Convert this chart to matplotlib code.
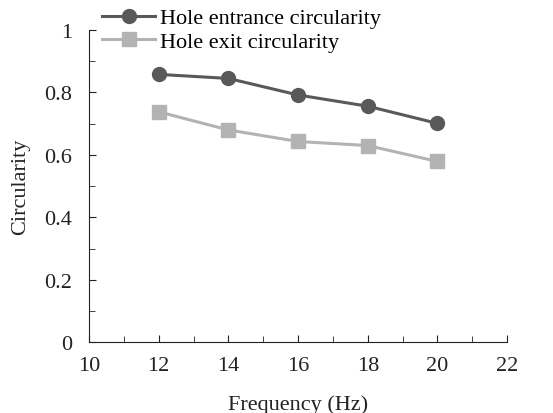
import matplotlib.pyplot as plt
from matplotlib.ticker import MultipleLocator

freq = [12, 14, 16, 18, 20]
entrance = [0.858, 0.845, 0.792, 0.756, 0.701]
exit_ = [0.738, 0.680, 0.643, 0.630, 0.579]

plt.rcParams['font.family'] = 'Liberation Serif'
plt.rcParams['font.size'] = 16

fig = plt.figure(figsize=(5.53, 4.14), dpi=100)
ax = fig.add_axes([0.161, 0.171, 0.756, 0.754])

ax.plot(freq, entrance, color='#595959', lw=2.2, marker='o', ms=10,
        label='Hole entrance circularity')
ax.plot(freq, exit_, color='#b3b3b3', lw=2.2, marker='s', ms=10,
        label='Hole exit circularity')

ax.set_xlim(10, 22)
ax.set_ylim(0, 1)
ax.xaxis.set_major_locator(MultipleLocator(2))
ax.xaxis.set_minor_locator(MultipleLocator(1))
ax.yaxis.set_minor_locator(MultipleLocator(0.1))
ax.set_yticks([0, 0.2, 0.4, 0.6, 0.8, 1.0])
ax.set_yticklabels(['0', '0.2', '0.4', '0.6', '0.8', '1'])
ax.tick_params(which='both', direction='in', color='#222222', labelcolor='#222222')
ax.tick_params(which='major', length=5, labelsize=16)
ax.tick_params(which='minor', length=4)
ax.tick_params(axis='x', pad=10)
ax.tick_params(axis='y', pad=12)
for s in ['top', 'right']:
    ax.spines[s].set_visible(False)
for s in ['left', 'bottom']:
    ax.spines[s].set_color('#222222')

ax.set_xlabel('Frequency (Hz)', color='#222222', labelpad=14)
ax.set_ylabel('Circularity', color='#222222', labelpad=10)

ax.legend(loc='upper left', bbox_to_anchor=(0.01, 1.1), frameon=False,
          handlelength=2.4, handletextpad=0.2, labelspacing=0.15,
          borderaxespad=0, fontsize=16)

fig.savefig('out.png', dpi=100)
